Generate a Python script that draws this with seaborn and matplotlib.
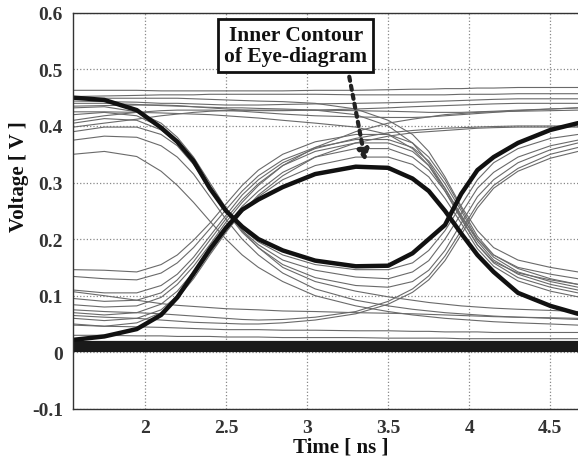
import numpy as np
import pandas as pd
import seaborn as sns
import matplotlib.pyplot as plt

time_ns = [1.56, 1.75, 1.95, 2.1, 2.2, 2.3, 2.4, 2.5, 2.6, 2.7, 2.85, 3.05,
           3.3, 3.5, 3.65, 3.75, 3.85, 3.95, 4.05, 4.15, 4.3, 4.5, 4.67]

# inner contour (thick black curves)
contour_fall = [0.450, 0.446, 0.428, 0.397, 0.372, 0.338, 0.290, 0.250, 0.222, 0.200, 0.180, 0.162,
                0.152, 0.153, 0.175, 0.200, 0.225, 0.280, 0.322, 0.345, 0.370, 0.393, 0.405]
contour_rise = [0.022, 0.028, 0.041, 0.066, 0.097, 0.139, 0.182, 0.220, 0.252, 0.270, 0.292, 0.315,
                0.328, 0.326, 0.307, 0.285, 0.250, 0.210, 0.172, 0.142, 0.105, 0.082, 0.068]

# thin traces of the eye diagram
traces = [
    [0.463, 0.463, 0.463, 0.462, 0.462, 0.462, 0.462, 0.462, 0.462, 0.462, 0.462, 0.463,
     0.463, 0.464, 0.465, 0.465, 0.466, 0.466, 0.467, 0.467, 0.468, 0.468, 0.468],
    [0.452, 0.453, 0.454, 0.455, 0.455, 0.455, 0.456, 0.456, 0.456, 0.456, 0.456, 0.456,
     0.455, 0.455, 0.455, 0.455, 0.455, 0.456, 0.456, 0.456, 0.457, 0.457, 0.457],
    [0.444, 0.443, 0.442, 0.440, 0.440, 0.439, 0.438, 0.437, 0.437, 0.437, 0.438, 0.439,
     0.440, 0.441, 0.442, 0.443, 0.444, 0.445, 0.446, 0.447, 0.448, 0.448, 0.448],
    [0.435, 0.436, 0.437, 0.437, 0.436, 0.434, 0.432, 0.430, 0.428, 0.427, 0.427, 0.428,
     0.430, 0.432, 0.434, 0.435, 0.436, 0.437, 0.438, 0.439, 0.440, 0.440, 0.440],
    [0.398, 0.405, 0.412, 0.418, 0.421, 0.424, 0.426, 0.427, 0.428, 0.428, 0.428, 0.428,
     0.427, 0.426, 0.425, 0.424, 0.424, 0.424, 0.425, 0.426, 0.428, 0.430, 0.432],
    [0.410, 0.418, 0.424, 0.427, 0.428, 0.428, 0.428, 0.427, 0.426, 0.424, 0.421, 0.418,
     0.416, 0.415, 0.415, 0.416, 0.418, 0.420, 0.422, 0.424, 0.427, 0.430, 0.432],
    [0.432, 0.434, 0.425, 0.405, 0.380, 0.345, 0.300, 0.255, 0.215, 0.185, 0.150, 0.125,
     0.108, 0.098, 0.092, 0.088, 0.085, 0.082, 0.080, 0.078, 0.076, 0.074, 0.072],
    [0.420, 0.424, 0.418, 0.398, 0.375, 0.340, 0.295, 0.250, 0.215, 0.190, 0.163, 0.145,
     0.133, 0.130, 0.142, 0.162, 0.200, 0.245, 0.290, 0.318, 0.345, 0.365, 0.375],
    [0.390, 0.398, 0.398, 0.385, 0.365, 0.332, 0.290, 0.248, 0.212, 0.185, 0.155, 0.132,
     0.118, 0.115, 0.125, 0.145, 0.180, 0.228, 0.275, 0.305, 0.335, 0.358, 0.370],
    [0.375, 0.382, 0.380, 0.365, 0.345, 0.315, 0.275, 0.235, 0.200, 0.172, 0.140, 0.112,
     0.092, 0.082, 0.076, 0.073, 0.070, 0.068, 0.066, 0.064, 0.062, 0.060, 0.058],
    [0.350, 0.355, 0.346, 0.320, 0.295, 0.265, 0.232, 0.200, 0.172, 0.150, 0.125, 0.100,
     0.082, 0.072, 0.066, 0.063, 0.060, 0.058, 0.056, 0.054, 0.052, 0.050, 0.048],
    [0.405, 0.413, 0.410, 0.393, 0.370, 0.336, 0.292, 0.250, 0.218, 0.195, 0.172, 0.155,
     0.146, 0.146, 0.158, 0.180, 0.215, 0.260, 0.305, 0.335, 0.360, 0.378, 0.385],
    [0.146, 0.145, 0.142, 0.155, 0.172, 0.198, 0.228, 0.262, 0.295, 0.322, 0.350, 0.372,
     0.385, 0.385, 0.370, 0.345, 0.305, 0.255, 0.205, 0.172, 0.148, 0.130, 0.120],
    [0.134, 0.130, 0.128, 0.140, 0.158, 0.185, 0.218, 0.252, 0.285, 0.312, 0.340, 0.362,
     0.376, 0.376, 0.362, 0.338, 0.298, 0.250, 0.200, 0.168, 0.142, 0.125, 0.115],
    [0.110, 0.105, 0.105, 0.118, 0.138, 0.168, 0.205, 0.242, 0.278, 0.305, 0.335, 0.360,
     0.378, 0.388, 0.392, 0.394, 0.396, 0.397, 0.398, 0.399, 0.400, 0.400, 0.400],
    [0.095, 0.090, 0.092, 0.105, 0.128, 0.160, 0.198, 0.236, 0.270, 0.298, 0.330, 0.355,
     0.370, 0.370, 0.355, 0.330, 0.290, 0.243, 0.196, 0.163, 0.138, 0.120, 0.110],
    [0.084, 0.080, 0.082, 0.097, 0.120, 0.152, 0.190, 0.230, 0.265, 0.295, 0.330, 0.362,
     0.390, 0.405, 0.412, 0.416, 0.420, 0.422, 0.424, 0.425, 0.426, 0.427, 0.428],
    [0.070, 0.066, 0.070, 0.085, 0.108, 0.142, 0.182, 0.222, 0.258, 0.285, 0.318, 0.345,
     0.360, 0.360, 0.345, 0.322, 0.285, 0.238, 0.190, 0.158, 0.132, 0.115, 0.105],
    [0.060, 0.056, 0.060, 0.075, 0.100, 0.135, 0.175, 0.215, 0.250, 0.275, 0.305, 0.330,
     0.345, 0.345, 0.332, 0.310, 0.272, 0.228, 0.183, 0.152, 0.126, 0.108, 0.098],
    [0.050, 0.046, 0.052, 0.070, 0.095, 0.130, 0.172, 0.212, 0.248, 0.278, 0.312, 0.345,
     0.370, 0.382, 0.388, 0.390, 0.392, 0.394, 0.396, 0.397, 0.398, 0.398, 0.398],
    [0.107, 0.100, 0.092, 0.086, 0.083, 0.081, 0.079, 0.077, 0.076, 0.075, 0.073, 0.072,
     0.070, 0.069, 0.068, 0.067, 0.066, 0.065, 0.064, 0.063, 0.062, 0.061, 0.060],
    [0.075, 0.072, 0.070, 0.068, 0.066, 0.064, 0.062, 0.060, 0.058, 0.057, 0.058, 0.062,
     0.072, 0.090, 0.112, 0.135, 0.170, 0.215, 0.262, 0.295, 0.325, 0.350, 0.362],
    [0.065, 0.062, 0.060, 0.057, 0.055, 0.053, 0.052, 0.051, 0.050, 0.050, 0.052, 0.057,
     0.068, 0.085, 0.106, 0.128, 0.162, 0.208, 0.255, 0.290, 0.320, 0.343, 0.355],
    [0.048, 0.046, 0.045, 0.044, 0.043, 0.042, 0.041, 0.040, 0.040, 0.040, 0.039, 0.039,
     0.038, 0.038, 0.037, 0.037, 0.036, 0.036, 0.036, 0.035, 0.035, 0.035, 0.035],
    [0.030, 0.030, 0.029, 0.029, 0.028, 0.028, 0.028, 0.027, 0.027, 0.027, 0.026, 0.026,
     0.026, 0.025, 0.025, 0.025, 0.025, 0.024, 0.024, 0.024, 0.024, 0.024, 0.024],
    [0.440, 0.440, 0.438, 0.436, 0.435, 0.434, 0.433, 0.432, 0.432, 0.431, 0.430, 0.428,
     0.420, 0.400, 0.370, 0.335, 0.290, 0.240, 0.200, 0.172, 0.150, 0.138, 0.130],
    [0.425, 0.425, 0.424, 0.423, 0.422, 0.421, 0.420, 0.418, 0.416, 0.414, 0.410, 0.405,
     0.398, 0.385, 0.360, 0.330, 0.285, 0.235, 0.190, 0.160, 0.140, 0.128, 0.120],
    [0.448, 0.449, 0.449, 0.449, 0.449, 0.448, 0.447, 0.446, 0.445, 0.444, 0.443, 0.440,
     0.430, 0.410, 0.385, 0.355, 0.310, 0.258, 0.215, 0.185, 0.163, 0.150, 0.142],
]

# the dense low rail near 0 V
low_rail = [0.002, 0.005, 0.008, 0.011, 0.014, 0.019]

rows = []
for i, tr in enumerate(traces):
    for t, v in zip(time_ns, tr):
        rows.append({"trace": i, "time": t, "voltage": v})
df = pd.DataFrame(rows)

cont = pd.DataFrame({"time": time_ns * 2,
                     "voltage": contour_fall + contour_rise,
                     "trace": ["fall"] * len(time_ns) + ["rise"] * len(time_ns)})

sns.set_style("white")
plt.rcParams["font.family"] = ["Liberation Serif", "DejaVu Serif"]
plt.rcParams["font.weight"] = "bold"

fig = plt.figure(figsize=(5.78, 4.6), dpi=100)
ax = fig.add_axes([0.126, 0.109, 0.874, 0.861])

sns.lineplot(data=df, x="time", y="voltage", units="trace", estimator=None,
             color="#6a6a6a", linewidth=0.8, ax=ax)
for lvl in low_rail:
    ax.hlines(lvl, time_ns[0], time_ns[-1], color="#1a1a1a", linewidth=1.6)
sns.lineplot(data=cont, x="time", y="voltage", units="trace", estimator=None,
             color="#111111", linewidth=3.2, ax=ax)

ax.set_xlim(1.556, 4.67)
ax.set_ylim(-0.1, 0.6)
ax.set_xticks([2, 2.5, 3, 3.5, 4, 4.5])
ax.set_xticklabels(["2", "2.5", "3", "3.5", "4", "4.5"])
ax.set_yticks([-0.1, 0, 0.1, 0.2, 0.3, 0.4, 0.5, 0.6])
ax.set_yticklabels(["-0.1", "0", "0.1", "0.2", "0.3", "0.4", "0.5", "0.6"])
ax.grid(True, linestyle=":", color="#888888", linewidth=0.9)
ax.tick_params(length=0, labelsize=14, colors="#333333", pad=7)
for s in ["left", "bottom", "top"]:
    ax.spines[s].set_color("#333333")
    ax.spines[s].set_linewidth(1.0)
ax.spines["right"].set_visible(False)

ax.set_xlabel("Time [ ns ]", fontsize=15, fontweight="bold", color="#111111")
ax.xaxis.set_label_coords(0.53, -0.07)
ax.set_ylabel("Voltage [ V ]", fontsize=15, fontweight="bold", color="#111111")
ax.yaxis.set_label_coords(-0.087, 0.59)

ax.annotate("", xy=(3.36, 0.337), xytext=(3.26, 0.487),
            arrowprops=dict(arrowstyle="-|>", linestyle=(0, (1, 1.2)), lw=3,
                            color="#222222", mutation_scale=16, shrinkA=0, shrinkB=0))
ax.text(2.93, 0.542, "Inner Contour\nof Eye-diagram", ha="center", va="center",
        fontsize=15.5, fontweight="bold", color="#111111", linespacing=1.1,
        bbox=dict(boxstyle="square,pad=0.28", fc="white", ec="#111111", lw=2))

plt.savefig("out.png", dpi=100)
